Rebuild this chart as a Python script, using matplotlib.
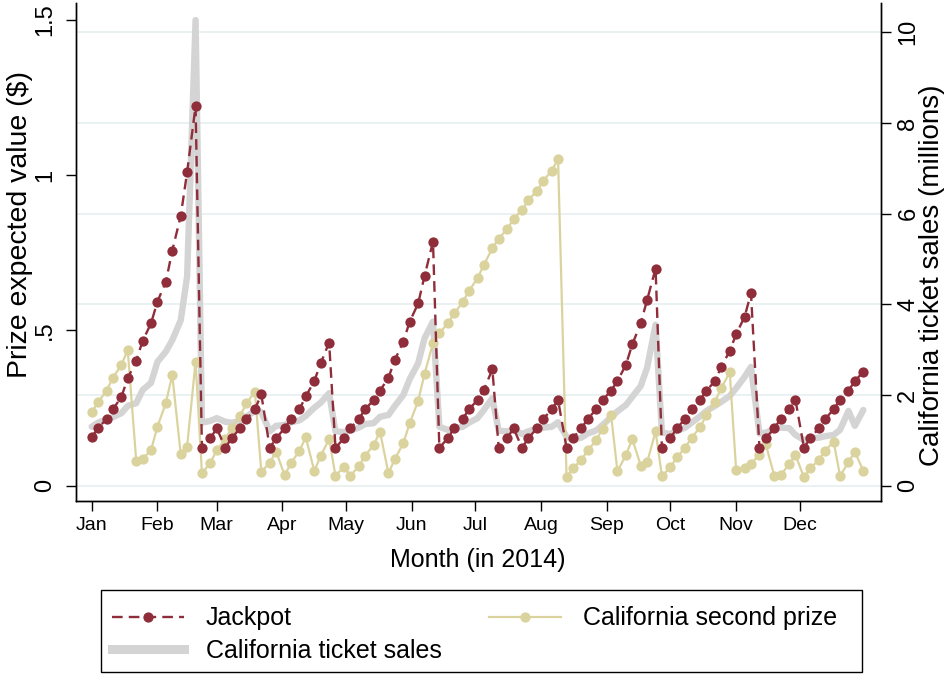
import matplotlib
matplotlib.use("Agg")
import matplotlib.pyplot as plt
from matplotlib.lines import Line2D
from matplotlib.patches import Rectangle
import pandas as pd

plt.rcParams['font.family'] = ['Liberation Sans', 'DejaVu Sans']

# Draw dates: Powerball draws on Wednesdays and Saturdays in 2014
all_days = pd.date_range('2014-01-01', '2014-12-31', freq='D')
draw_dates = all_days[all_days.weekday.isin([2, 5])]

jackpot = [
    0.156, 0.185, 0.215, 0.246, 0.286, 0.346, 0.402, 0.466, 0.523, 0.593,
    0.657, 0.757, 0.869, 1.009, 1.223, 0.122, 0.153, 0.185, 0.122, 0.153,
    0.185, 0.215, 0.246, 0.294, 0.122, 0.153, 0.185, 0.215, 0.246, 0.288,
    0.337, 0.394, 0.461, 0.122, 0.153, 0.185, 0.215, 0.246, 0.276, 0.306,
    0.348, 0.405, 0.464, 0.528, 0.587, 0.675, 0.786, 0.122, 0.153, 0.185,
    0.215, 0.246, 0.276, 0.308, 0.375, 0.122, 0.153, 0.185, 0.122, 0.153,
    0.185, 0.215, 0.246, 0.276, 0.122, 0.153, 0.185, 0.215, 0.246, 0.276,
    0.306, 0.337, 0.389, 0.455, 0.523, 0.598, 0.699, 0.122, 0.153, 0.185,
    0.215, 0.246, 0.276, 0.306, 0.337, 0.383, 0.434, 0.488, 0.544, 0.620,
    0.122, 0.153, 0.185, 0.215, 0.246, 0.276, 0.122, 0.153, 0.185, 0.215,
    0.246, 0.276, 0.306, 0.337, 0.367,
]

second_prize = [
    0.236, 0.269, 0.306, 0.348, 0.389, 0.437, 0.080, 0.086, 0.115, 0.190,
    0.267, 0.357, 0.101, 0.126, 0.399, 0.040, 0.074, 0.115, 0.150, 0.185,
    0.225, 0.265, 0.303, 0.045, 0.074, 0.110, 0.034, 0.072, 0.113, 0.156,
    0.047, 0.096, 0.150, 0.032, 0.061, 0.032, 0.063, 0.097, 0.131, 0.174,
    0.040, 0.086, 0.137, 0.201, 0.273, 0.360, 0.459, 0.491, 0.523, 0.555,
    0.591, 0.628, 0.668, 0.711, 0.765, 0.796, 0.826, 0.859, 0.888, 0.920,
    0.949, 0.981, 1.015, 1.051, 0.029, 0.056, 0.083, 0.114, 0.146, 0.184,
    0.228, 0.047, 0.098, 0.151, 0.065, 0.075, 0.175, 0.031, 0.060, 0.091,
    0.123, 0.155, 0.188, 0.229, 0.270, 0.315, 0.365, 0.051, 0.056, 0.071,
    0.100, 0.133, 0.032, 0.034, 0.069, 0.099, 0.027, 0.056, 0.083, 0.113,
    0.142, 0.032, 0.075, 0.110, 0.047,
]

ticket_sales = [
    1.30, 1.39, 1.46, 1.51, 1.60, 1.76, 1.82, 2.11, 2.27, 2.73,
    2.96, 3.21, 3.65, 4.61, 10.27, 1.39, 1.43, 1.49, 1.41, 1.39,
    1.43, 1.52, 1.65, 1.62, 1.20, 1.32, 1.34, 1.40, 1.44, 1.54,
    1.72, 1.83, 2.04, 1.20, 1.18, 1.22, 1.28, 1.36, 1.38, 1.52,
    1.56, 1.76, 2.00, 2.35, 2.70, 3.25, 3.62, 1.30, 1.23, 1.26,
    1.30, 1.39, 1.49, 1.67, 1.93, 1.21, 1.20, 1.23, 1.14, 1.20,
    1.26, 1.28, 1.30, 1.40, 1.08, 1.02, 1.06, 1.15, 1.22, 1.34,
    1.51, 1.64, 1.78, 1.96, 2.20, 2.60, 3.55, 1.17, 1.14, 1.21,
    1.28, 1.39, 1.53, 1.65, 1.76, 1.85, 1.98, 2.15, 2.40, 2.62,
    1.15, 1.17, 1.25, 1.28, 1.27, 1.12, 1.01, 1.04, 1.06, 1.09,
    1.12, 1.23, 1.65, 1.32, 1.67,
]

month_labels = ['Jan', 'Feb', 'Mar', 'Apr', 'May', 'Jun',
                'Jul', 'Aug', 'Sep', 'Oct', 'Nov', 'Dec']
left_ticks = [0, 0.5, 1, 1.5]
left_ticklabels = ['0', '.5', '1', '1.5']
right_ticks = [0, 2, 4, 6, 8, 10]

assert len(draw_dates) == len(jackpot) == len(second_prize) == len(ticket_sales)

RED = '#8F2D3A'
SAND = '#DBD39E'
GRAY = '#D4D4D4'
GRID = '#EAF1F3'
DASH = (0, (4.5, 2.6))
MS = 7.4

W, H = 951, 674
fig = plt.figure(figsize=(W / 100, H / 100), dpi=100)
L, R, T, B = 75.7, 880.7, 3.3, 500.7
AW, AH = R - L, B - T
ax = fig.add_axes([L / W, (H - B) / H, AW / W, AH / H])
ax2 = ax.twinx()

# right axis: ticket sales (drawn beneath)
ax2.plot(draw_dates, ticket_sales, color=GRAY, lw=4.6, solid_joinstyle='round',
         solid_capstyle='round', zorder=2)
ax2.set_ylim(-0.331, 10.64)
ax2.set_yticks(right_ticks)
ax2.set_yticklabels([str(t) for t in right_ticks], rotation=90, va='center')
ax2.yaxis.grid(True, color=GRID, lw=1.4, zorder=0)
ax2.set_axisbelow(True)

ax.set_zorder(ax2.get_zorder() + 1)
ax.patch.set_visible(False)

ax.plot(draw_dates, second_prize, color=SAND, lw=1.6, marker='o', ms=MS,
        markeredgewidth=0, zorder=3)
ax.plot(draw_dates, jackpot, color=RED, lw=1.7, linestyle=DASH,
        marker='o', ms=MS, markeredgewidth=0, zorder=4)
ax.set_ylim(-0.0483, 1.5536)
ax.set_yticks(left_ticks)
ax.set_yticklabels(left_ticklabels, rotation=90, va='center')

start = pd.Timestamp('2014-01-01')
ax.set_xlim(start - pd.Timedelta(days=7.55), start + pd.Timedelta(days=372.2))
month_starts = pd.date_range('2014-01-01', periods=12, freq='MS')
ax.set_xticks(month_starts)
ax.set_xticklabels(month_labels)

for a in (ax, ax2):
    a.spines['top'].set_visible(False)
    for s in ('left', 'right', 'bottom'):
        a.spines[s].set_linewidth(1.0)
        a.spines[s].set_color('black')

ax.tick_params(axis='y', labelsize=17, length=7, width=1, pad=7)
ax.tick_params(axis='x', labelsize=14, length=7, width=1, pad=5)
ax2.tick_params(axis='y', labelsize=17, length=7, width=1, pad=5)

ax.set_xlabel('Month (in 2014)', fontsize=18, labelpad=10)
ax.set_ylabel('Prize expected value ($)', fontsize=20.5)
ax2.set_ylabel('California ticket sales (millions)', fontsize=20, rotation=90)
# label anchor positions (pixels -> axes fraction)
ax.yaxis.set_label_coords((33 - L) / AW, (B - 224) / AH)
ax2.yaxis.set_label_coords((919 - L) / AW, (B - 275) / AH)

handles = [
    Line2D([], [], color=RED, lw=1.7, linestyle=DASH, marker='o', ms=MS,
           markeredgewidth=0),
    Line2D([], [], color=GRAY, lw=6.5),
    Line2D([], [], color=SAND, lw=1.6, marker='o', ms=MS, markeredgewidth=0),
]
labels = ['Jackpot', 'California ticket sales', 'California second prize']
leg = fig.legend(handles, labels, ncol=2, loc='upper left',
                 bbox_to_anchor=(100.6 / W, 1 - 595 / H), borderaxespad=0,
                 fontsize=18, frameon=False,
                 handlelength=2.9, handletextpad=0.85, columnspacing=1.9,
                 borderpad=0.45, labelspacing=0.35, numpoints=1)
fig.patches.append(Rectangle((100.6 / W, (H - 672) / H), (862 - 100.6) / W,
                             (672 - 590) / H, transform=fig.transFigure,
                             fill=False, ec='black', lw=1.0))

fig.savefig('out.png', dpi=100)
